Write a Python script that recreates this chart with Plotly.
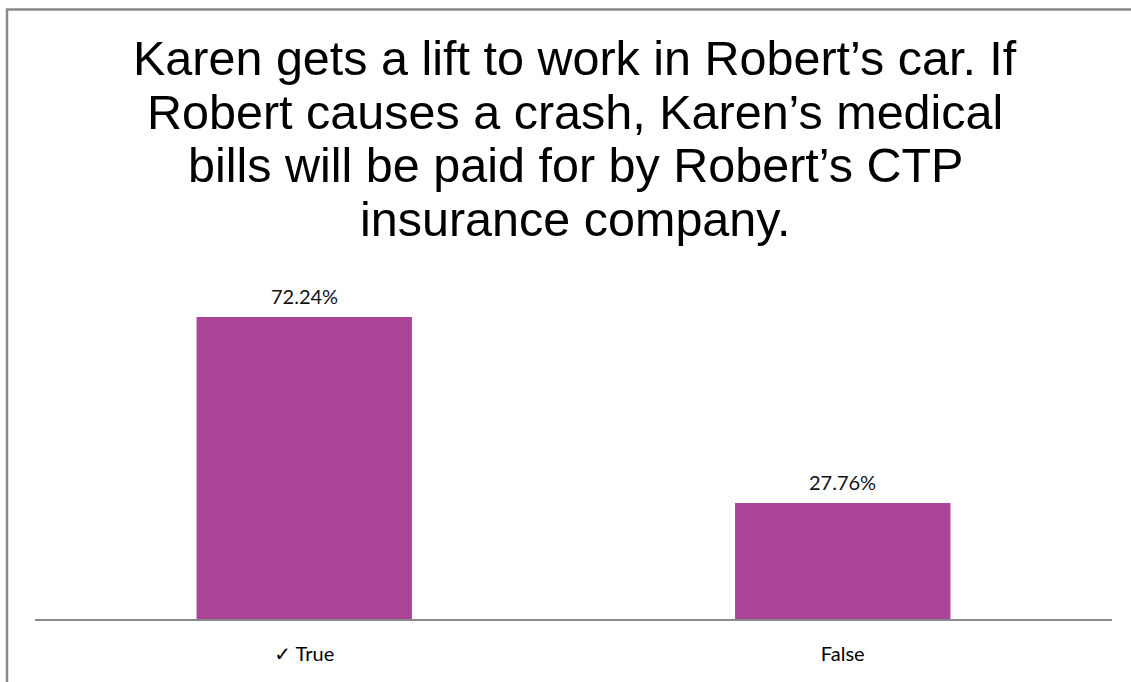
import plotly.graph_objects as go

categories = ["True", "False"]
tick_labels = ["✓ True", "False"]
values = [72.24, 27.76]
value_labels = ["72.24%", "27.76%"]
title_lines = [
    "Karen gets a lift to work in Robert’s car. If",
    "Robert causes a crash, Karen’s medical",
    "bills will be paid for by Robert’s CTP",
    "insurance company.",
]

W, H = 1131, 682
L, R, T, B = 35, 1112, 260, 619  # plot area in screen pixels

def px(x):
    return (x - L) / (R - L)

def py(y):
    return (B - y) / (B - T)

fig = go.Figure(go.Bar(
    x=categories, y=values,
    marker=dict(color="#A94496", line=dict(width=0)),
    width=0.4,
    hoverinfo="skip",
))

annotations = []
line_y = [58, 112, 165, 219]
for t, yy in zip(title_lines, line_y):
    annotations.append(dict(
        text=t, x=px(575), y=py(yy), xref="paper", yref="paper",
        xanchor="center", yanchor="middle", showarrow=False,
        font=dict(family="Liberation Sans, Arial, sans-serif", size=48.5, color="#000"),
    ))
for c, v, lab in zip(categories, values, value_labels):
    annotations.append(dict(
        text=lab, x=c, y=v, xref="x", yref="y", yshift=21,
        xanchor="center", yanchor="middle", showarrow=False,
        font=dict(family="Lato, Open Sans, sans-serif", size=20, color="#111"),
    ))

fig.update_layout(
    width=W, height=H,
    margin=dict(l=L, r=W - R, t=T, b=H - B, pad=0),
    paper_bgcolor="white", plot_bgcolor="white",
    showlegend=False,
    annotations=annotations,
    shapes=[dict(type="rect", xref="paper", yref="paper",
                 x0=px(7), x1=px(1145), y0=py(9.5), y1=py(700),
                 line=dict(color="#898989", width=2.5), fillcolor="rgba(0,0,0,0)")],
    xaxis=dict(tickvals=categories, ticktext=tick_labels, showline=True,
               linecolor="#8a8a8a", linewidth=1.5, ticks="", showgrid=False,
               tickfont=dict(family="Lato, DejaVu Sans, sans-serif", size=20, color="#000"),
               ticklabelstandoff=16),
    yaxis=dict(range=[0, 85.9], visible=False, showgrid=False, zeroline=False),
)

fig.write_html("out.html", config={"displayModeBar": False},
               post_script="document.body.style.margin='0';document.body.style.overflow='hidden';")
